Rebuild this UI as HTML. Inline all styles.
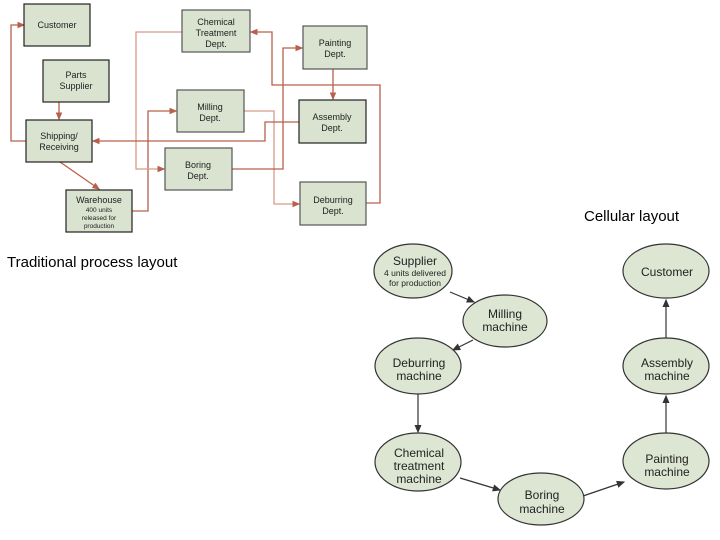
<!DOCTYPE html>
<html><head><meta charset="utf-8"><style>
body{margin:0;background:#fff;width:720px;height:540px;overflow:hidden;font-family:"Liberation Sans",sans-serif;}
.lbl{position:absolute;font-size:15px;color:#000;}
</style></head><body>
<svg width="720" height="540" style="position:absolute;left:0;top:0" font-family="Liberation Sans, sans-serif">
<defs>
<marker id="ra" markerWidth="6" markerHeight="6" refX="5" refY="3" orient="auto"><path d="M0,0.5 L6,3 L0,5.5z" fill="#b8604a"/></marker>
<marker id="ba" markerWidth="7" markerHeight="7" refX="6" refY="3.5" orient="auto"><path d="M0,0.5 L7,3.5 L0,6.5z" fill="#333"/></marker>
</defs>
<g fill="none" stroke="#b8604a" stroke-width="1.3">
<!-- shipping to customer -->
<polyline points="26,141 11,141 11,25 24,25" marker-end="url(#ra)"/>
<line x1="59" y1="102" x2="59" y2="119" marker-end="url(#ra)"/>
<line x1="60" y1="162" x2="99" y2="189" marker-end="url(#ra)"/>
<!-- warehouse to milling -->
<polyline points="132,211 148,211 148,111 176,111" marker-end="url(#ra)"/>
<!-- chemical to boring -->
<polyline points="182,32 136,32 136,169 164,169" stroke="#d89a88" marker-end="url(#ra)"/>
<!-- milling to deburring -->
<polyline points="244,111 274,111 274,204 299,204" stroke="#d89a88" marker-end="url(#ra)"/>
<!-- boring to painting -->
<polyline points="232,169 283,169 283,48 302,48" marker-end="url(#ra)"/>
<!-- painting to assembly -->
<line x1="333" y1="69" x2="333" y2="99" marker-end="url(#ra)"/>
<!-- assembly to shipping -->
<polyline points="299,122 265,122 265,141 93,141" marker-end="url(#ra)"/>
<!-- deburring to chemical -->
<polyline points="366,203 380,203 380,85 272,85 272,32 251,32" marker-end="url(#ra)"/>
</g>
<g fill="#d9e3d0" stroke="#222" stroke-width="1.2">
<rect x="24" y="4" width="66" height="42"/>
<rect x="43" y="60" width="66" height="42"/>
<rect x="26" y="120" width="66" height="42"/>
<rect x="66" y="190" width="66" height="42"/>
<rect x="182" y="10" width="68" height="42" stroke="#555"/>
<rect x="177" y="90" width="67" height="42" stroke="#555"/>
<rect x="165" y="148" width="67" height="42" stroke="#555"/>
<rect x="303" y="26" width="64" height="43" stroke="#555"/>
<rect x="299" y="100" width="67" height="43"/>
<rect x="300" y="182" width="66" height="43" stroke="#555"/>
</g>
<g font-size="9" fill="#222" text-anchor="middle">
<text x="57" y="28">Customer</text>
<text x="76" y="78">Parts</text><text x="76" y="89">Supplier</text>
<text x="59" y="139">Shipping/</text><text x="59" y="150">Receiving</text>
<text x="99" y="203">Warehouse</text>
<text x="99" y="212" font-size="6.5">400 units</text><text x="99" y="220" font-size="6.5">released for</text><text x="99" y="228" font-size="6.5">production</text>
<text x="216" y="25">Chemical</text><text x="216" y="36">Treatment</text><text x="216" y="47">Dept.</text>
<text x="210" y="110">Milling</text><text x="210" y="121">Dept.</text>
<text x="198" y="168">Boring</text><text x="198" y="179">Dept.</text>
<text x="335" y="46">Painting</text><text x="335" y="57">Dept.</text>
<text x="332" y="120">Assembly</text><text x="332" y="131">Dept.</text>
<text x="333" y="203">Deburring</text><text x="333" y="214">Dept.</text>
</g>
<g fill="none" stroke="#333" stroke-width="1.2">
<line x1="450" y1="292" x2="474" y2="302" marker-end="url(#ba)"/>
<line x1="473" y1="340" x2="453" y2="350" marker-end="url(#ba)"/>
<line x1="418" y1="394" x2="418" y2="432" marker-end="url(#ba)"/>
<line x1="460" y1="478" x2="500" y2="490" marker-end="url(#ba)"/>
<line x1="583" y1="496" x2="624" y2="482" marker-end="url(#ba)"/>
<line x1="666" y1="433" x2="666" y2="396" marker-end="url(#ba)"/>
<line x1="666" y1="338" x2="666" y2="300" marker-end="url(#ba)"/>
</g>
<g fill="#dde6d2" stroke="#333" stroke-width="1.2">
<ellipse cx="413" cy="271" rx="39" ry="27"/>
<ellipse cx="505" cy="321" rx="42" ry="26"/>
<ellipse cx="418" cy="366" rx="43" ry="28"/>
<ellipse cx="418" cy="462" rx="43" ry="29"/>
<ellipse cx="541" cy="499" rx="43" ry="26"/>
<ellipse cx="666" cy="461" rx="43" ry="28"/>
<ellipse cx="666" cy="366" rx="43" ry="28"/>
<ellipse cx="666" cy="271" rx="43" ry="27"/>
</g>
<g font-size="12" fill="#222" text-anchor="middle">
<text x="415" y="265">Supplier</text>
<text x="415" y="276" font-size="8.5">4 units delivered</text><text x="415" y="286" font-size="8.5">for production</text>
<text x="505" y="318">Milling</text><text x="505" y="331">machine</text>
<text x="419" y="367">Deburring</text><text x="419" y="380">machine</text>
<text x="419" y="457">Chemical</text><text x="419" y="470">treatment</text><text x="419" y="483">machine</text>
<text x="542" y="499">Boring</text><text x="542" y="513">machine</text>
<text x="667" y="463">Painting</text><text x="667" y="476">machine</text>
<text x="667" y="367">Assembly</text><text x="667" y="380">machine</text>
<text x="667" y="276">Customer</text>
</g>
</svg>
<div class="lbl" style="left:584px;top:208px;">Cellular layout</div>
<div class="lbl" style="left:7px;top:254px;">Traditional process layout</div>
</body></html>
